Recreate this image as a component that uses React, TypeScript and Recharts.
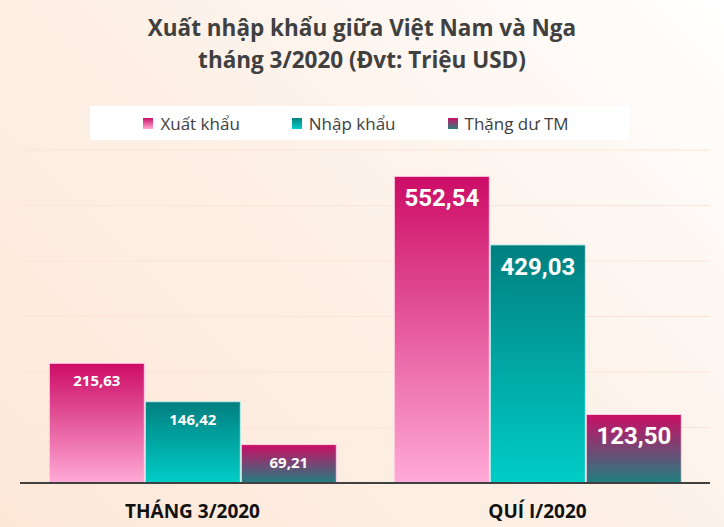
import React from 'react';
import { BarChart, Bar, XAxis, YAxis, CartesianGrid, LabelList } from 'recharts';

const categories = ['THÁNG 3/2020', 'QUÍ I/2020'];
const exportValues = [215.63, 552.54];
const importValues = [146.42, 429.03];
const surplusValues = [69.21, 123.5];
const yTicks = [0, 100, 200, 300, 400, 500, 600];

const seriesNames = ['Xuất khẩu', 'Nhập khẩu', 'Thặng dư TM'];

const data = categories.map((c, i) => ({
  name: c,
  xuat: exportValues[i],
  nhap: importValues[i],
  thang: surplusValues[i],
}));

const fmt = (v: number) => v.toFixed(2).replace('.', ',');

const legendItems = [
  { name: seriesNames[0], top: '#cc1166', bottom: '#ffaad4' },
  { name: seriesNames[1], top: '#008080', bottom: '#00cfc8' },
  { name: seriesNames[2], top: '#cc1166', bottom: '#2a8080' },
];

function BarLabel(props: any) {
  const { x, y, width, value, index } = props;
  const big = index === 1;
  return (
    <text
      x={x + width / 2}
      y={y + (big ? 22 : 17)}
      textAnchor="middle"
      dominantBaseline="central"
      fill="#fff"
      fontFamily={big ? 'Roboto, sans-serif' : '"Open Sans", sans-serif'}
      fontWeight="bold"
      fontSize={big ? 24 : 15}
    >
      {fmt(value)}
    </text>
  );
}

function CatTick(props: any) {
  const { x, y, payload } = props;
  return (
    <text
      x={x}
      y={y + 27}
      textAnchor="middle"
      fill="#111"
      fontFamily='"Open Sans", sans-serif'
      fontWeight="bold"
      fontSize={19}
    >
      {payload.value}
    </text>
  );
}

function LegendBox() {
  return (
    <div
      style={{
        position: 'absolute',
        top: 106,
        left: 90,
        width: 540,
        height: 34,
        background: '#fff',
        display: 'flex',
        alignItems: 'center',
        justifyContent: 'center',
        gap: 52,
        paddingRight: 8,
        boxSizing: 'border-box',
        fontFamily: '"Open Sans", sans-serif',
        fontSize: 17,
        color: '#404040',
      }}
    >
      {legendItems.map((it) => (
        <div key={it.name} style={{ display: 'flex', alignItems: 'center' }}>
          <span
            style={{
              width: 10,
              height: 11,
              marginRight: 7,
              background: `linear-gradient(${it.top}, ${it.bottom})`,
            }}
          />
          {it.name}
        </div>
      ))}
    </div>
  );
}

export default function App() {
  return (
    <div
      style={{
        position: 'absolute',
        left: 0,
        top: 0,
        width: 724,
        height: 527,
        overflow: 'hidden',
        background: 'linear-gradient(45deg, #fde8d8 0%, #fdf0e6 50%, #ffffff 100%)',
      }}
    >
      <div
        style={{
          position: 'absolute',
          top: 12,
          left: 0,
          width: 724,
          textAlign: 'center',
          fontFamily: '"Open Sans", sans-serif',
          fontWeight: 'bold',
          fontSize: 22.5,
          lineHeight: '32px',
          color: '#404040',
        }}
      >
        Xuất nhập khẩu giữa Việt Nam và Nga
        <br />
        tháng 3/2020 (Đvt: Triệu USD)
      </div>
      <LegendBox />
      <BarChart
        width={724}
        height={527}
        data={data}
        margin={{ top: 150, right: 14, bottom: 14, left: 20 }}
        barCategoryGap="8.5%"
        barGap={1}
        style={{ position: 'absolute', left: 0, top: 0 }}
      >
        <defs>
          <linearGradient id="gXuat" x1="0" y1="0" x2="0" y2="1">
            <stop offset="0%" stopColor="#cc0c66" />
            <stop offset="100%" stopColor="#ffaad6" />
          </linearGradient>
          <linearGradient id="gNhap" x1="0" y1="0" x2="0" y2="1">
            <stop offset="0%" stopColor="#007f7f" />
            <stop offset="100%" stopColor="#00cdc7" />
          </linearGradient>
          <linearGradient id="gThang" x1="0" y1="0" x2="0" y2="1">
            <stop offset="0%" stopColor="#cc0c66" />
            <stop offset="100%" stopColor="#1f8080" />
          </linearGradient>
        </defs>
        <CartesianGrid vertical={false} stroke="#fde4d4" />
        <YAxis hide domain={[0, 600]} ticks={yTicks} />
        <XAxis
          dataKey="name"
          height={30}
          axisLine={{ stroke: '#404040', strokeWidth: 2 }}
          tickLine={false}
          tick={<CatTick />}
        />
        <Bar dataKey="xuat" name={seriesNames[0]} fill="url(#gXuat)" stroke="#ffd0e4" strokeWidth={1} isAnimationActive={false}>
          <LabelList dataKey="xuat" content={<BarLabel />} />
        </Bar>
        <Bar dataKey="nhap" name={seriesNames[1]} fill="url(#gNhap)" stroke="#b8eeea" strokeWidth={1} isAnimationActive={false}>
          <LabelList dataKey="nhap" content={<BarLabel />} />
        </Bar>
        <Bar dataKey="thang" name={seriesNames[2]} fill="url(#gThang)" stroke="#ffd0e4" strokeWidth={1} isAnimationActive={false}>
          <LabelList dataKey="thang" content={<BarLabel />} />
        </Bar>
      </BarChart>
    </div>
  );
}
